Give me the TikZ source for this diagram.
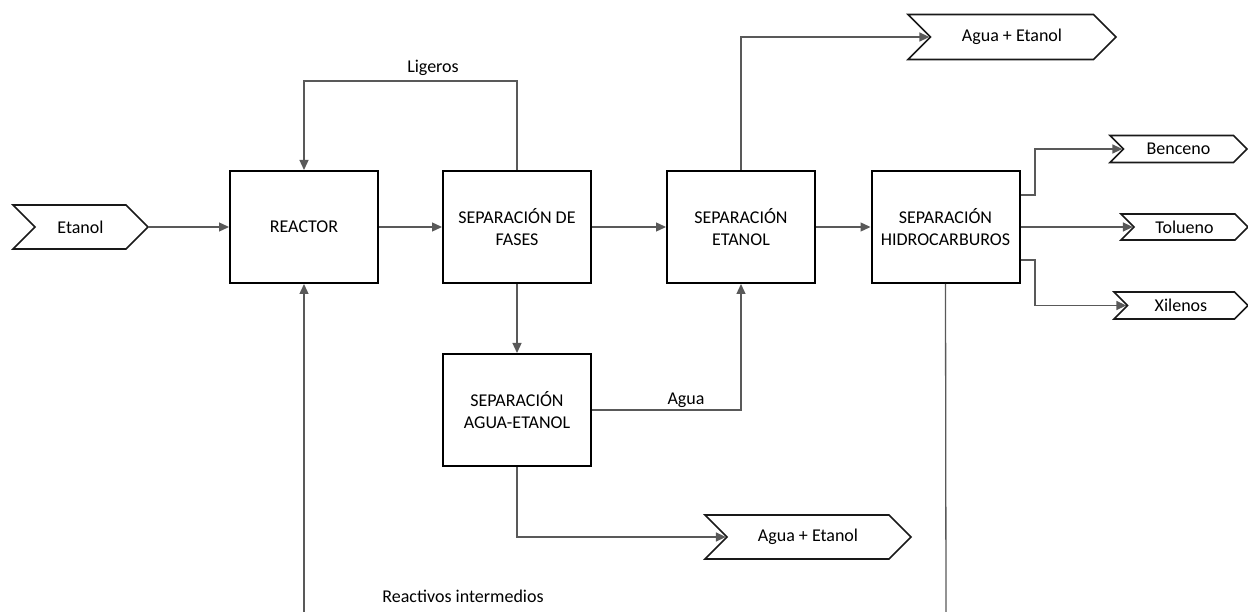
\documentclass[tikz,border=0pt]{standalone}
\usepackage{fontspec}
\setmainfont{Carlito}
\usetikzlibrary{shapes.symbols,arrows.meta}
\begin{document}
\begin{tikzpicture}[x=1pt,y=-1pt,
  txt/.style={font=\fontsize{18}{22}\selectfont,text=black},
  box/.style={txt,draw=black,line width=2pt,minimum width=148pt,minimum height=112pt,align=center,inner sep=0pt},
  stream/.style={txt,signal,signal from=west,signal to=east,signal pointer angle=90,draw=black!90,line width=1.6pt,inner sep=0pt},
  conn/.style={draw=black!65,line width=1.3pt},
  arr/.style={conn,-{Triangle[length=10pt,width=9pt]}},
  lbl/.style={txt,inner sep=0pt}
]
\useasboundingbox (0,0) rectangle (1248,612);
% streams
\node[stream,minimum width=135pt,minimum height=44pt] (etanol) at (80.5,227) {Etanol};
\node[stream,minimum width=208pt,minimum height=45pt] (topout) at (1012,37) {Agua + Etanol};
\node[stream,minimum width=206pt,minimum height=44pt] (botout) at (808,537) {Agua + Etanol};
\node[stream,minimum width=137pt,minimum height=27pt] (benceno) at (1178.5,149) {Benceno};
\node[stream,minimum width=127pt,minimum height=26pt] (tolueno) at (1184.5,227) {Tolueno};
\node[stream,minimum width=134pt,minimum height=27pt] (xilenos) at (1181,305.5) {Xilenos};
% boxes
\node[box] (reactor) at (304,227) {REACTOR};
\node[box] (fases) at (517,227) {SEPARACIÓN DE\\FASES};
\node[box] (etsep) at (741,227) {SEPARACIÓN\\ETANOL};
\node[box] (hidro) at (945.5,227) {SEPARACIÓN\\HIDROCARBUROS};
\node[box] (aguaet) at (517,410) {SEPARACIÓN\\AGUA-ETANOL};
% labels
\node[lbl] (ligeros) at (433,68) {Ligeros};
\node[lbl] (agua) at (686,400) {Agua};
\node[lbl] (reactivos) at (463,596) {Reactivos intermedios};
% free ends
\coordinate (recin) at (304,612);
\coordinate (recout) at (946,612);
% connectors
\draw[arr] (etanol.east) -- (reactor.west);
\draw[arr] (reactor.east) -- (fases.west);
\draw[arr] (fases.east) -- (etsep.west);
\draw[arr] (etsep.east) -- (hidro.west);
\draw[arr] (fases.north) -- (517,81) -- (304,81) -- (reactor.north);
\draw[arr] (fases.south) -- (aguaet.north);
\draw[arr] (aguaet.east) -- (741,410) -- (etsep.south);
\draw[arr] (etsep.north) |- (topout.west);
\draw[arr] ([yshift=32pt]hidro.east) -- (1035,195) |- (benceno.west);
\draw[arr] (hidro.east) -- (tolueno.west);
\draw[arr] ([yshift=-33pt]hidro.east) -- (1035,260) |- (xilenos.west);
\draw[arr] (aguaet.south) |- (botout.west);
\draw[arr] (recin) -- (reactor.south);
\draw[conn] (hidro.south) -- (recout);
\end{tikzpicture}
\end{document}
